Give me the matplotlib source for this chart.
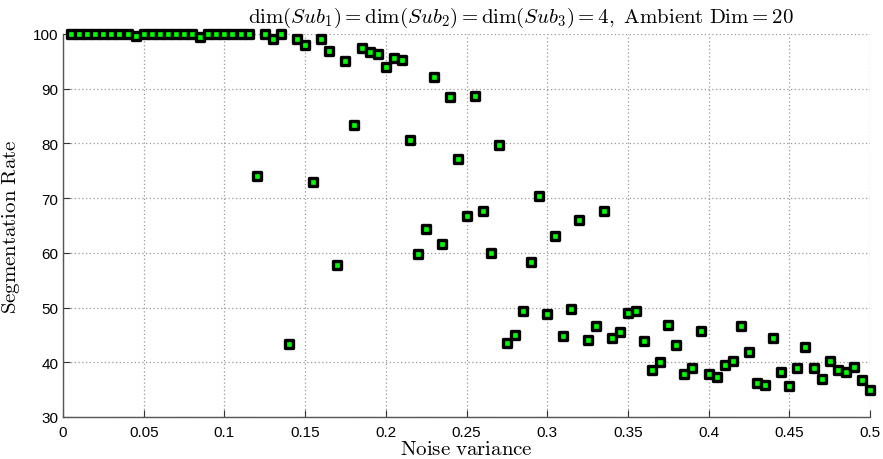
import numpy as np
import matplotlib
matplotlib.use("Agg")
import matplotlib.pyplot as plt
from matplotlib.markers import MarkerStyle

# noise variance levels (0.005 steps)
noise = np.round(np.arange(1, 101) * 0.005, 3)

# segmentation rate (%)
rate_low = [100, 100, 100, 100, 100, 100, 100, 100, 99.7, 100,
            100, 100, 100, 100, 100, 100, 99.5, 100, 100, 100,
            100, 100, 100]                                     # 0.005 .. 0.115
rate_mid = [74.1, 100, 99.1, 100, 43.3, 99.1, 97.9, 72.9, 99.1, 96.9,
            57.8, 95.0, 83.3, 97.4, 96.7, 96.4, 94.0, 95.7, 95.2, 80.6,
            59.8, 64.3, 92.2, 61.7, 88.5, 77.2, 66.8, 88.7, 67.6, 60.0,
            79.8, 43.5, 45.0, 49.3, 58.3, 70.4, 48.8, 63.1, 44.8, 49.7,
            66.0, 44.1, 46.6, 67.6, 44.5, 45.5, 49.0, 49.3]          # 0.12 .. 0.355
rate_high = [43.9, 38.6, 40.0, 46.9, 43.2, 37.8, 39.0, 45.7, 37.8, 37.3,
             39.5, 40.3, 46.7, 41.8, 36.3, 35.9, 44.4, 38.3, 35.7, 39.0,
             42.8, 38.9, 36.9, 40.3, 38.5, 38.2, 39.2, 36.7, 35.0]   # 0.36 .. 0.5
rate = rate_low + rate_mid + rate_high

x_ticks = [0, 0.05, 0.1, 0.15, 0.2, 0.25, 0.3, 0.35, 0.4, 0.45, 0.5]
x_tick_labels = ["0", "0.05", "0.1", "0.15", "0.2", "0.25", "0.3", "0.35", "0.4", "0.45", "0.5"]
y_ticks = [30, 40, 50, 60, 70, 80, 90, 100]

plt.rcParams["mathtext.fontset"] = "cm"
plt.rcParams["font.family"] = ["Liberation Sans", "DejaVu Sans"]

fig = plt.figure(figsize=(8.83, 4.6), dpi=100)
ax = fig.add_axes([63 / 883, 1 - 418 / 460, (870 - 63) / 883, (418 - 35) / 460])

ax.plot(noise, rate, linestyle="none", marker=MarkerStyle("s", joinstyle="round"),
        markersize=5.8, markerfacecolor="#00ff00", markeredgecolor="black",
        markeredgewidth=2.4, clip_on=False, zorder=3)

ax.set_xlim(0, 0.5)
ax.set_ylim(30, 100)
ax.set_xticks(x_ticks)
ax.set_xticklabels(x_tick_labels)
ax.set_yticks(y_ticks)
ax.tick_params(direction="in", length=5, labelsize=11, colors="#333333", labelcolor="black")
ax.tick_params(axis="x", pad=6)

for s in ["top", "right"]:
    ax.spines[s].set_visible(False)
for s in ["left", "bottom"]:
    ax.spines[s].set_color("#555555")
    ax.spines[s].set_linewidth(1.0)

ax.grid(True, linestyle=(0, (1, 2)), color="#999999", linewidth=0.9)
ax.set_axisbelow(True)

ax.set_xlabel(r"$\mathrm{Noise\ variance}$", fontsize=15, labelpad=0)
ax.set_ylabel(r"$\mathrm{Segmentation\ Rate}$", fontsize=15, labelpad=8)
fig.text(0.59, 0.962,
         r"$\mathrm{dim}(Sub_1) = \mathrm{dim}(Sub_2) = \mathrm{dim}(Sub_3) = 4,\mathrm{\ Ambient\ Dim} = 20$",
         fontsize=15, ha="center", va="center")

fig.savefig("out.png", dpi=100)
